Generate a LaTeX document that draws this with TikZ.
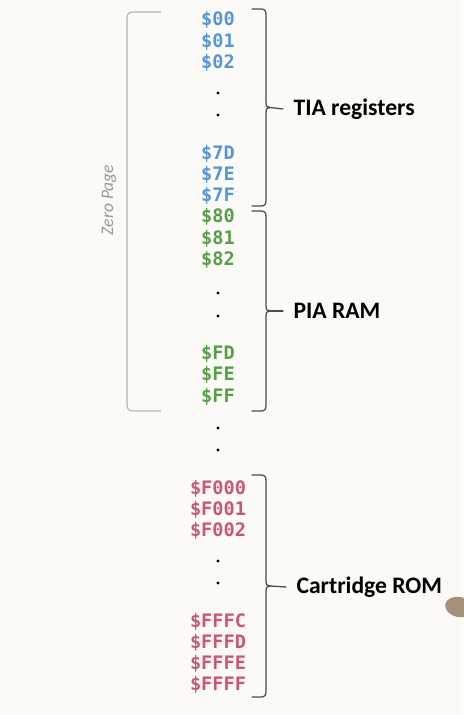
\documentclass[tikz,border=0pt]{standalone}
\usepackage{fontspec}
\setmainfont{Carlito}
\newfontfamily\addrfont{DejaVu Sans Mono}
\usepackage{xcolor}
\usepackage{tikz}

\definecolor{tiablue}{HTML}{5397D6}
\definecolor{piagreen}{HTML}{55A046}
\definecolor{romred}{HTML}{CC5673}
\definecolor{paper}{HTML}{FBFAF6}

\tikzset{
    addr/.style={font=\addrfont\fontsize{13.2}{14}\selectfont\bfseries, inner sep=0pt},
    region/.style={font=\fontsize{16.8}{18}\selectfont\bfseries, anchor=west, inner sep=0pt},
    brak/.style={line width=0.9pt, draw=black!70, line cap=round},
    vdot/.style={circle, fill=black, inner sep=0pt, minimum size=2.4pt}
}

\begin{document}
\begin{tikzpicture}[x=0.025cm, y=-0.025cm, thick]

    % Paper
    \fill[paper] (0,0) rectangle (463,715);
    \useasboundingbox (0,0) rectangle (463,715);

    % TIA addresses (blue)
    \foreach \y/\nm/\txt in {
        20/a00/\$00,
        42/a01/\$01,
        63/a02/\$02,
        154/a7D/\$7D,
        175/a7E/\$7E,
        196/a7F/\$7F
    }
    {
        \node[addr, text=tiablue] (\nm) at (218,\y) {\txt};
    }

    % PIA addresses (green)
    \foreach \y/\nm/\txt in {
        217/a80/\$80,
        239/a81/\$81,
        260/a82/\$82,
        354/aFD/\$FD,
        375/aFE/\$FE,
        397/aFF/\$FF
    }
    {
        \node[addr, text=piagreen] (\nm) at (218,\y) {\txt};
    }

    % Cartridge addresses (red)
    \foreach \y/\nm/\txt in {
        489/aF000/\$F000,
        510/aF001/\$F001,
        531/aF002/\$F002,
        622/aFFFC/\$FFFC,
        643/aFFFD/\$FFFD,
        664/aFFFE/\$FFFE,
        685/aFFFF/\$FFFF
    }
    {
        \node[addr, text=romred] (\nm) at (218,\y) {\txt};
    }

    % Gaps
    \foreach \y [count=\i] in {93, 115, 293, 316, 428, 450, 561, 583}
    {
        \node[vdot] (dot\i) at (218,\y) {};
    }

    % Zero page bracket (left)
    \draw[line width=0.8pt, draw=black!30] (161,12) -- (133,12)
        .. controls (129,12) and (127,14) .. (127,18) -- (127,405)
        .. controls (127,409) and (129,411) .. (133,411) -- (161,411);
    \node[rotate=90, font=\fontsize{12.5}{13}\selectfont\itshape, text=black!40, inner sep=0pt]
        (zplbl) at (109,200) {Zero Page};

    % Region brackets (right)
    \foreach \top/\bot/\nm in {9/206/tia, 211/411/pia, 475/697/rom}
    {
        \pgfmathsetmacro\bmid{(\top+\bot)/2}
        \draw[brak] (252,\top) -- (261,\top)
            .. controls (265,\top) and (266,\top+2) .. (266,\top+6) -- (266,\bmid-6)
            .. controls (266,\bmid-1) and (267,\bmid) .. (270,\bmid)
            .. controls (267,\bmid) and (266,\bmid+1) .. (266,\bmid+6) -- (266,\bot-6)
            .. controls (266,\bot-2) and (265,\bot) .. (261,\bot) -- (252,\bot);
        \coordinate (\nm tip) at (270,\bmid);
    }

    % Region names
    \node[region] (tialbl) at (293,109) {TIA registers};
    \node[region] (pialbl) at (293,311) {PIA RAM};
    \node[region] (romlbl) at (296,587) {Cartridge ROM};
    \draw[brak] (tiatip) -- ([xshift=-0.25cm]tialbl.west);
    \draw[brak] (piatip) -- ([xshift=-0.25cm]pialbl.west);
    \draw[brak] (romtip) -- ([xshift=-0.25cm]romlbl.west);

    % Pointer
    \fill[black!45!brown!60, rotate around={-12:(459,607)}] (459,607) ellipse (14 and 10);

\end{tikzpicture}
\end{document}
